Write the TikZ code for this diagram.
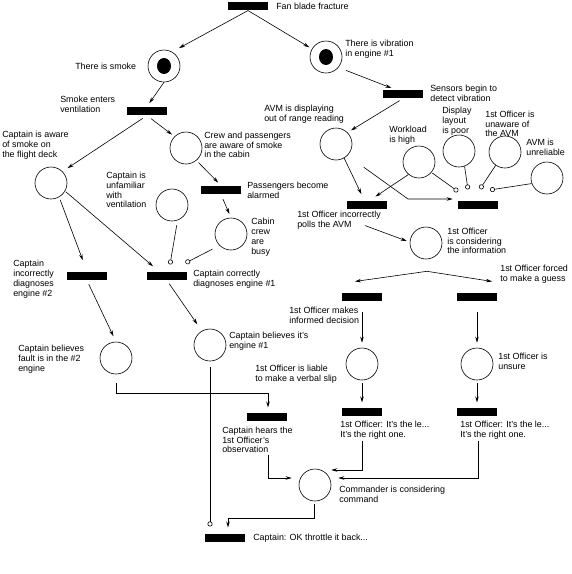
\documentclass[tikz,border=0pt]{standalone}
\usepackage{fontspec}
\setmainfont{Liberation Sans}
\usetikzlibrary{arrows.meta,calc}
\tikzset{
  place/.style={draw, circle, minimum size=32pt, inner sep=0pt},
  trans/.style={fill=black, minimum width=40pt, minimum height=8.5pt, inner sep=0pt},
  lbl/.style={anchor=west, align=left, inner sep=0pt, font=\fontsize{8.9}{9.8}\selectfont},
  inh/.style={-{Circle[open,length=5pt]}},
}
\begin{document}
\begin{tikzpicture}[>={Stealth[length=6pt,width=3.5pt]}, x=1pt, y=-1pt, line width=.6pt]
\useasboundingbox (0,0) rectangle (572,574);
% places
\foreach \n/\x/\y in {pSmoke/164/66, pVib/326/57, pCapAware/51/183, pCrew/186/148,
  pAvm/336/144, pWork/419/162, pDisplay/459/151, pUnaware/505/152, pUnrel/547/178,
  pUnfam/172/205, pCabin/231/234, pConsider/426/243, pBel2/116/358, pBel1/210/345,
  pVerbal/362/364, pUnsure/477/364, pComm/315/485}{
  \node[place] (\n) at (\x,\y) {};
}
\fill (pSmoke) ellipse [x radius=7pt, y radius=8pt];
\fill (pVib) ellipse [x radius=7pt, y radius=8pt];
% transitions
\foreach \n/\x/\y in {tFan/248/6, tSmoke/147/111, tSensor/403/94, tPass/221/190,
  tPolls/367/205, tAvm/478/205, tCapWrong/87/276, tCapRight/167/276,
  tInformed/362/297, tForced/477/297, tHears/267/417, tSlipA/362/412,
  tSlipB/477/412, tOk/225/538}{
  \node[trans] (\n) at (\x,\y) {};
}
% labels
\node[lbl] (lFan) at (276,6) {Fan blade fracture};
\node[lbl] (lSmoke) at (75,66) {There is smoke};
\node[lbl] (lVib) at (345,49) {There is vibration\\in engine \#1};
\node[lbl] (lSmokeEnt) at (60,104) {Smoke enters\\ventilation};
\node[lbl] (lSensor) at (430,93) {Sensors begin to\\detect vibration};
\node[lbl] (lAvm) at (264,114) {AVM is displaying\\out of range reading};
\node[lbl] (lWork) at (389,135) {Workload\\is high};
\node[lbl] (lDisplay) at (442,121) {Display\\layout\\is poor};
\node[lbl] (lUnaware) at (485,124) {1st Officer is\\unaware of\\the AVM};
\node[lbl] (lUnrel) at (526,147) {AVM is\\unreliable};
\node[lbl] (lCapAware) at (2,145) {Captain is aware\\of smoke on\\the flight deck};
\node[lbl] (lCrew) at (204,145) {Crew and passengers\\are aware of smoke\\in the cabin};
\node[lbl] (lPass) at (247,190) {Passengers become\\alarmed};
\node[lbl] (lUnfam) at (106,190) {Captain is\\unfamiliar\\with\\ventilation};
\node[lbl] (lCabin) at (251,237) {Cabin\\crew\\are\\busy};
\node[lbl] (lPolls) at (297,220) {1st Officer incorrectly\\polls the AVM};
\node[lbl] (lConsider) at (447,241) {1st Officer\\is considering\\the information};
\node[lbl] (lForced) at (500,274) {1st Officer forced\\to make a guess};
\node[lbl] (lCapWrong) at (13,279) {Captain\\incorrectly\\diagnoses\\engine \#2};
\node[lbl] (lCapRight) at (193,279) {Captain correctly\\diagnoses engine \#1};
\node[lbl] (lInformed) at (289,315) {1st Officer makes\\informed decision};
\node[lbl] (lBel2) at (18,359) {Captain believes\\fault is in the \#2\\engine};
\node[lbl] (lBel1) at (229,341) {Captain believes it's\\engine \#1};
\node[lbl] (lVerbal) at (255,374) {1st Officer is liable\\to make a verbal slip};
\node[lbl] (lUnsure) at (498,361) {1st Officer is\\unsure};
\node[lbl] (lHears) at (222,440) {Captain hears the\\1st Officer's\\observation};
\node[lbl] (lSlipA) at (340,430) {1st Officer: It's the le...\\It's the right one.};
\node[lbl] (lSlipB) at (460,430) {1st Officer: It's the le...\\It's the right one.};
\node[lbl] (lComm) at (339,494) {Commander is considering\\command};
\node[lbl] (lOk) at (253,538) {Captain: OK throttle it back...};
% arcs, top
\draw[->, shorten >=8pt] (tFan.south) -- (pSmoke.60);
\draw[->, shorten >=3pt] (tFan.south) -- (pVib.150);
\draw[->, shorten >=4pt] (pSmoke.south) -- (tSmoke.north);
\draw[->, shorten <=8pt, shorten >=4pt] (pVib.-40) -- (tSensor.150);
\draw[->, shorten <=5pt, shorten >=6pt] (tSmoke.south) -- (pCapAware.45);
\draw[->, shorten <=5pt, shorten >=3pt] (tSmoke.south) -- (pCrew.135);
\draw[->, shorten <=3pt, shorten >=4pt] (pCrew.-50) -- (tPass.north);
\draw[->, shorten <=5pt, shorten >=4pt] (tPass.south) -- (pCabin.north);
\draw[->, shorten <=4pt, shorten >=4pt] (tSensor.south) -- (pAvm.45);
% AVM side
\draw[->, shorten >=7pt] (pAvm.-60) -- (tPolls.120);
\draw[->, shorten >=7pt] (pWork.-130) -- (tPolls.60);
\coordinate (kAvm) at (408,199);
\draw[->, shorten <=20pt, shorten >=5pt] (pAvm.-45) -- (kAvm) -- (kAvm -| tAvm.west);
\draw[inh, shorten <=1pt] (pWork.-40) -- ($(tAvm.north)+(-20,-9)$);
\draw[inh] (pDisplay.-70) -- ($(tAvm.north)+(-10,-11)$);
\draw[inh] (pUnaware.-125) -- ($(tAvm.north)+(2,-11.5)$);
\draw[inh] (pUnrel.-160) -- ($(tAvm.north)+(12,-10.5)$);
\draw[->] ($(tPolls.south)+(-2,16)$) -- ($(pConsider.west)+(-3,-2)$);
\draw[->] ($(pConsider.south)+(1,12)$) -- ($(tInformed.north)+(-7,-11)$);
\draw[->] ($(pConsider.south)+(1,12)$) -- ($(tForced.north)+(15,-11)$);
\foreach \t/\p/\s in {tInformed/pVerbal/tSlipA, tForced/pUnsure/tSlipB}{
  \draw[->, shorten <=10pt, shorten >=5pt] (\t.south) -- (\p.north);
  \draw[->, shorten <=3pt, shorten >=5pt] (\p.south) -- (\s.north);
}
% captain side
\draw[->, shorten <=3pt, shorten >=12pt] (pCapAware.-60) -- (tCapWrong.north);
\draw[->, shorten <=1pt, shorten >=8pt] (pCapAware.-30) -- (tCapRight.150);
\draw[inh, shorten <=5pt] (pUnfam.-70) -- ($(tCapRight.north)+(3,-7)$);
\draw[inh, shorten <=8pt] (pCabin.-135) -- ($(tCapRight.north)+(18.5,-8.5)$);
\draw[->, shorten <=4pt, shorten >=6pt] (tCapWrong.south) -- (pBel2.north);
\draw[->, shorten <=4pt, shorten >=8pt] (tCapRight.south) -- (pBel1.120);
% bottom
\draw[->] ($(pBel2.south)+(0,9)$) -- ++(0,10) -| ($(tHears.north)+(1,-5)$);
\draw[inh] ($(pBel1.south)+(0,6)$) -- ($(tOk.north)+(-15,-7)$);
\draw[->] ($(tHears.south)+(1,33)$) |- ($(pComm.west)+(-7,-7)$);
\draw[->] ($(tSlipA.south)+(0,24)$) |- ($(pComm.east)+(0,-15)$);
\draw[->] ($(tSlipB.south)+(1,24)$) |- ($(pComm.east)+(7,-7)$);
\draw[->] ($(pComm.south)+(-1,3)$) -- ++(0,14) -| ($(tOk.north)+(3,-6)$);
\end{tikzpicture}
\end{document}
